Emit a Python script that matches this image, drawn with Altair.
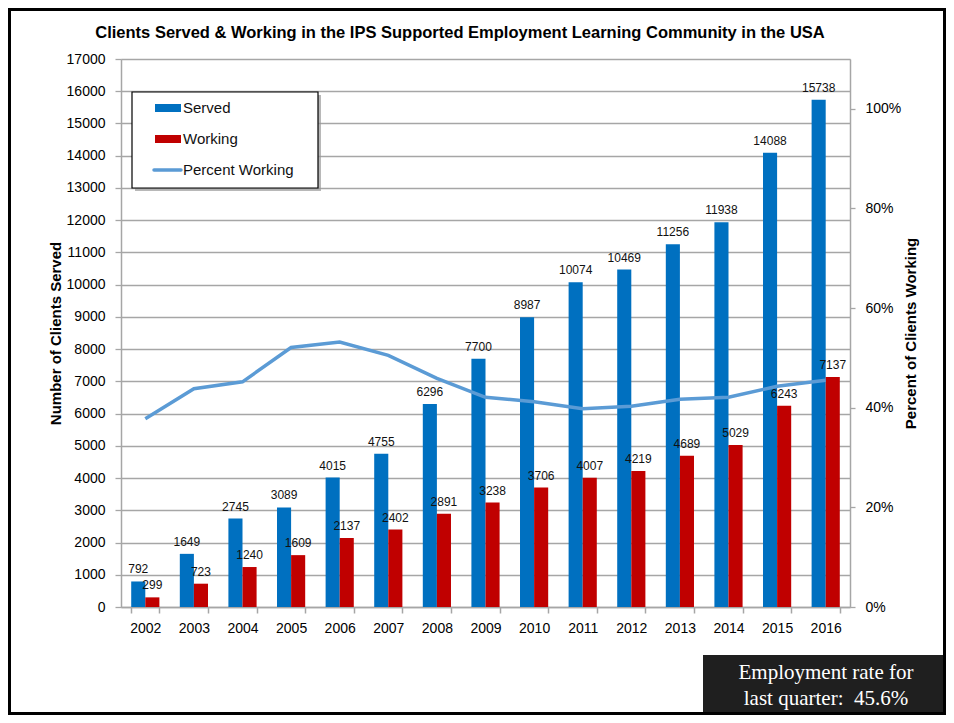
import altair as alt
import pandas as pd

years = [str(y) for y in range(2002, 2017)]
served = [792, 1649, 2745, 3089, 4015, 4755, 6296, 7700, 8987, 10074, 10469, 11256, 11938, 14088, 15738]
working = [299, 723, 1240, 1609, 2137, 2402, 2891, 3238, 3706, 4007, 4219, 4689, 5029, 6243, 7137]
pct = [0.378, 0.438, 0.452, 0.521, 0.532, 0.505, 0.459, 0.421, 0.412, 0.398, 0.403, 0.417, 0.421, 0.443, 0.455]
series_names = ["Served", "Working"]
left_ticks = list(range(0, 17001, 1000))
right_ticks = [0, 0.2, 0.4, 0.6, 0.8, 1.0]

BLUE = "#0070C0"
RED = "#C00000"
LINE = "#5B9BD5"
GRID = "#A6A6A6"
FONT = "Liberation Sans"

bars_df = pd.DataFrame({
    "year": years * 2,
    "series": [series_names[0]] * len(years) + [series_names[1]] * len(years),
    "value": served + working,
})
line_df = pd.DataFrame({"year": years, "pct": pct})

W, H = 729, 548

x_enc = alt.X(
    "year:N", sort=years,
    scale=alt.Scale(paddingInner=0.42, paddingOuter=0.21),
    axis=alt.Axis(title=None, labelAngle=0, labelFontSize=14, labelColor="black", labelFont=FONT,
                  tickBand="extent", domainColor=GRID, tickColor=GRID, tickSize=6, labelPadding=8,
                  grid=False, domainWidth=1.5, tickWidth=1.5),
)
y_left = alt.Y(
    "value:Q",
    scale=alt.Scale(domain=[0, 17000], nice=False),
    axis=alt.Axis(orient="left", values=left_ticks, format="d", title="Number of Clients Served", grid=True,
                  gridColor=GRID, gridWidth=1.3, domainColor=GRID, domainWidth=1.5, tickColor=GRID,
                  tickWidth=1.3, tickSize=6, labelFontSize=14, labelColor="black", labelFont=FONT,
                  labelPadding=10, titleFont=FONT, titleFontSize=15, titleFontWeight="bold",
                  titleColor="black", titleAngle=270, titleX=-66, titleY=H / 2, titleAlign="center",
                  titleBaseline="middle"),
)
xoff = alt.XOffset("series:N", sort=series_names, scale=alt.Scale(paddingInner=0, paddingOuter=0))
color = alt.Color("series:N", scale=alt.Scale(domain=series_names, range=[BLUE, RED]), legend=None)

bars = alt.Chart(bars_df).mark_bar().encode(x=x_enc, xOffset=xoff, y=y_left, color=color)
labels = alt.Chart(bars_df).mark_text(baseline="bottom", dy=-5, fontSize=12, font=FONT, color="#111111").encode(
    x=x_enc, xOffset=xoff, y=y_left, text="value:Q")

line = alt.Chart(line_df).mark_line(color=LINE, strokeWidth=3.5).encode(
    x=x_enc,
    y=alt.Y("pct:Q", scale=alt.Scale(domain=[0, 1.1], nice=False),
            axis=alt.Axis(orient="right", values=right_ticks, format=".0%", title="Percent of Clients Working",
                          grid=False, domainColor=GRID, domainWidth=1.5, tickColor=GRID, tickWidth=1.3,
                          tickSize=5, labelFontSize=14, labelColor="black", labelFont=FONT, labelPadding=10,
                          titleFont=FONT, titleFontSize=15, titleFontWeight="bold", titleColor="black",
                          titleAngle=270, titleX=60, titleY=H / 2, titleAlign="center",
                          titleBaseline="middle")),
)

one = alt.Data(values=[{"a": 1}])

def rect(x, x2, y, y2, **kw):
    return alt.Chart(one).mark_rect(**kw).encode(
        x=alt.value(x), x2=alt.value(x2), y=alt.value(y), y2=alt.value(y2))

def txt(x, y, s, **kw):
    return alt.Chart(one).mark_text(**kw).encode(x=alt.value(x), y=alt.value(y), text=alt.value(s))

title = txt(339, -26, "Clients  Served & Working in the IPS Supported Employment Learning Community in the USA",
            align="center", baseline="middle", fontSize=16.5, fontWeight="bold", font=FONT, color="black")

legend = alt.layer(
    rect(14, 200, 36, 132, color="#9a9a9a", opacity=0.7),
    rect(11, 197, 33, 129, fill="white", stroke="black", strokeWidth=1.2),
    rect(34, 60, 45, 53, color=BLUE),
    rect(34, 60, 76, 84, color=RED),
    alt.Chart(one).mark_rule(color=LINE, strokeWidth=3.5, strokeCap="round").encode(
        x=alt.value(33), x2=alt.value(60), y=alt.value(111)),
    txt(62, 49, "Served", align="left", baseline="middle", fontSize=15, font=FONT, color="#111111"),
    txt(62, 80, "Working", align="left", baseline="middle", fontSize=15, font=FONT, color="#111111"),
    txt(62, 111, "Percent Working", align="left", baseline="middle", fontSize=15, font=FONT, color="#111111"),
)

box = alt.layer(
    rect(582, 826, 596, 656, color="#1f1f1f"),
    txt(705, 614, "Employment rate for", align="center", baseline="middle", fontSize=21,
        font="Liberation Serif", color="white"),
    txt(705, 640, "last quarter:\u00a0 45.6%", align="center", baseline="middle", fontSize=21,
        font="Liberation Serif", color="white"),
)

frame = rect(-111.5, 823.5, -49.5, 654.5, filled=False, stroke="black", strokeWidth=3)

main = alt.layer(alt.layer(bars, labels), line).resolve_scale(y="independent")

chart = alt.layer(main, title, legend, box, frame).properties(
    width=W, height=H,
    autosize=alt.AutoSizeParams(type="none"),
    padding={"left": 113, "top": 51, "right": 96, "bottom": 108},
).configure_view(stroke=None).configure(background="white")

chart.save("out.html", embed_options={"renderer": "svg", "actions": False})
